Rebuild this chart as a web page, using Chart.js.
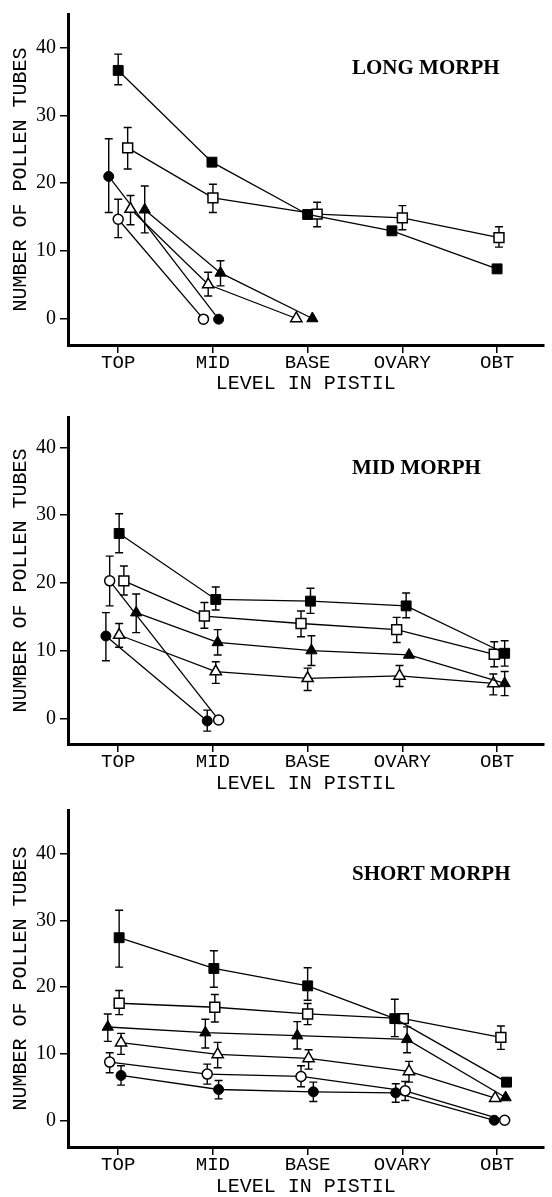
<!DOCTYPE html>
<html>
<head>
<meta charset="utf-8">
<script src="https://cdn.jsdelivr.net/npm/chart.js@4.4.1/dist/chart.umd.min.js"></script>
<style>
  html, body { margin: 0; padding: 0; background: #fff; }
  .panel { position: absolute; left: 0; width: 552px; }
</style>
</head>
<body>
<div class="panel" style="top:0px;height:400px"><canvas id="longChart" width="552" height="400"></canvas></div>
<div class="panel" style="top:400px;height:396px"><canvas id="midChart" width="552" height="396"></canvas></div>
<div class="panel" style="top:796px;height:401px"><canvas id="shortChart" width="552" height="401"></canvas></div>
<script>
const categories = ['TOP', 'MID', 'BASE', 'OVARY', 'OBT'];
const yTicks = [0, 10, 20, 30, 40];

// LONG MORPH  (x = level, with the small sideways offsets of the figure)
const longFSquareX = [0.0, 0.99, 2.0, 2.89, 4.0];
const longFSquare = [36.6, 23.1, 15.4, 13.0, 7.4];
const longFSquareErr = [[34.5, 39.0], null, null, null, null];
const longOSquareX = [0.1, 1.0, 2.1, 3.0, 4.02];
const longOSquare = [25.2, 17.85, 15.45, 14.9, 12.0];
const longOSquareErr = [[22.1, 28.2], [15.7, 19.85], [13.6, 17.2], [13.15, 16.7], [10.6, 13.6]];
const longFCircleX = [-0.1, 1.06];
const longFCircle = [21.0, 0];
const longFCircleErr = [[15.7, 26.55], null];
const longOCircleX = [0.0, 0.9];
const longOCircle = [14.7, 0];
const longOCircleErr = [[12.0, 17.65], null];
const longOTriX = [0.13, 0.95, 1.88];
const longOTri = [16.2, 5.1, 0.1];
const longOTriErr = [[13.9, 18.2], [3.4, 6.9], null];
const longFTriX = [0.28, 1.08, 2.05];
const longFTri = [16.1, 6.8, 0.1];
const longFTriErr = [[12.7, 19.6], [4.9, 8.6], null];

// MID MORPH
const midFSquareX = [0.01, 1.03, 2.03, 3.04, 4.08];
const midFSquare = [27.3, 17.55, 17.3, 16.6, 9.6];
const midFSquareErr = [[24.45, 30.2], [16.0, 19.4], [15.5, 19.2], [14.85, 18.5], [7.7, 11.45]];
const midOSquareX = [0.06, 0.91, 1.93, 2.94, 3.97];
const midOSquare = [20.3, 15.1, 14.0, 13.1, 9.45];
const midOSquareErr = [[18.2, 22.5], [13.3, 17.1], [12.05, 15.85], [11.2, 14.9], [7.6, 11.3]];
const midFTriX = [0.19, 1.05, 2.04, 3.07, 4.08];
const midFTri = [15.6, 11.2, 10.0, 9.35, 5.15];
const midFTriErr = [[12.65, 18.35], [9.35, 13.1], [7.8, 12.2], null, [3.35, 6.9]];
const midOTriX = [0.01, 1.03, 2.0, 2.97, 3.96];
const midOTri = [12.3, 6.9, 5.9, 6.25, 5.15];
const midOTriErr = [[10.5, 14.0], [5.15, 8.35], [4.1, 7.4], [4.7, 7.8], [3.45, 6.55]];
const midFCircleX = [-0.13, 0.94];
const midFCircle = [12.15, -0.4];
const midFCircleErr = [[8.5, 15.6], [-1.9, 1.2]];
const midOCircleX = [-0.09, 1.06];
const midOCircle = [20.3, -0.25];
const midOCircleErr = [[16.6, 23.95], null];

// SHORT MORPH
const shortFSquareX = [0.01, 1.01, 2.0, 2.92, 4.1];
const shortFSquare = [27.4, 22.8, 20.2, 15.3, 5.8];
const shortFSquareErr = [[23.0, 31.5], [20.0, 25.45], [18.05, 22.9], [12.6, 18.2], null];
const shortOSquareX = [0.01, 1.02, 2.0, 3.01, 4.04];
const shortOSquare = [17.6, 17.0, 16.0, 15.3, 12.5];
const shortOSquareErr = [[15.9, 19.5], [14.8, 18.9], [14.4, 17.55], null, [10.7, 14.2]];
const shortFTriX = [-0.11, 0.92, 1.89, 3.05, 4.09];
const shortFTri = [14.05, 13.2, 12.75, 12.2, 3.5];
const shortFTriErr = [[11.9, 16.0], [10.9, 15.2], [10.75, 14.85], [10.2, 14.07], null];
const shortOTriX = [0.03, 1.05, 2.01, 3.07, 3.98];
const shortOTri = [11.7, 9.95, 9.35, 7.4, 3.4];
const shortOTriErr = [[9.95, 13.1], [7.95, 11.75], [7.75, 10.65], [5.8, 8.9], null];
const shortOCircleX = [-0.09, 0.94, 1.93, 3.03, 4.08];
const shortOCircle = [8.8, 7.0, 6.65, 4.5, 0.1];
const shortOCircleErr = [[7.2, 10.2], [5.5, 8.5], [5.1, 8.25], [3.05, 5.9], null];
const shortFCircleX = [0.03, 1.06, 2.06, 2.93, 3.97];
const shortFCircle = [6.8, 4.7, 4.35, 4.2, 0.1];
const shortFCircleErr = [[5.35, 8.25], [3.3, 6.05], [2.9, 5.8], [2.8, 5.55], null];

const markers = {
  fSquare: { style: 'rect', r: 7, fill: '#000', bw: 1 },
  oSquare: { style: 'rect', r: 7, fill: '#fff', bw: 1.5 },
  fTri: { style: 'triangle', r: 6.5, fill: '#000', bw: 1 },
  oTri: { style: 'triangle', r: 6.5, fill: '#fff', bw: 1.5 },
  fCircle: { style: 'circle', r: 5, fill: '#000', bw: 1 },
  oCircle: { style: 'circle', r: 5, fill: '#fff', bw: 1.5 }
};

const monoFont = '"Liberation Mono", "Courier New", monospace';
const serifFont = '"Liberation Serif", "Times New Roman", serif';

// error bars, drawn under the markers
const errorBars = {
  id: 'errorBars',
  beforeDatasetsDraw(chart) {
    const ctx = chart.ctx;
    const yScale = chart.scales.y;
    ctx.save();
    ctx.strokeStyle = '#000';
    ctx.lineWidth = 1.4;
    chart.data.datasets.forEach((ds, di) => {
      const meta = chart.getDatasetMeta(di);
      ds.errors.forEach((e, i) => {
        if (!e) return;
        const x = meta.data[i].x;
        const lo = yScale.getPixelForValue(e[0]);
        const hi = yScale.getPixelForValue(e[1]);
        ctx.beginPath();
        ctx.moveTo(x, lo); ctx.lineTo(x, hi);
        ctx.moveTo(x - 4, lo); ctx.lineTo(x + 4, lo);
        ctx.moveTo(x - 4, hi); ctx.lineTo(x + 4, hi);
        ctx.stroke();
      });
    });
    ctx.restore();
  }
};

const panelTitle = {
  id: 'panelTitle',
  afterDraw(chart, args, opts) {
    const ctx = chart.ctx;
    ctx.save();
    ctx.font = 'bold 21px ' + serifFont;
    ctx.fillStyle = '#000';
    ctx.textBaseline = 'middle';
    ctx.fillText(opts.text, opts.x, chart.scales.y.getPixelForValue(40) + 21);
    ctx.restore();
  }
};

function makePanel(id, title, series, yMin, yMax, box) {
  const datasets = series.map(s => {
    const m = markers[s.mark];
    return {
      data: s.x.map((x, i) => ({ x: x, y: s.y[i] })),
      errors: s.err,
      showLine: true,
      borderColor: '#000',
      borderWidth: 1.3,
      pointStyle: m.style,
      pointRadius: m.r,
      pointBackgroundColor: m.fill,
      pointBorderColor: '#000',
      pointBorderWidth: m.bw,
      clip: false
    };
  });

  new Chart(document.getElementById(id), {
    type: 'scatter',
    data: { datasets: datasets },
    plugins: [errorBars, panelTitle],
    options: {
      responsive: false,
      animation: false,
      layout: { padding: { top: box.top, left: 0, right: 0, bottom: 0 } },
      plugins: {
        legend: { display: false },
        tooltip: { enabled: false },
        panelTitle: { text: title, x: 352 }
      },
      scales: {
        x: {
          type: 'linear',
          min: -0.53,
          max: 4.49,
          afterBuildTicks: s => { s.ticks = categories.map((c, i) => ({ value: i })); },
          afterFit: s => { s.height = box.xHeight; },
          ticks: {
            callback: (v, i) => categories[i],
            color: '#000',
            padding: 0,
            maxRotation: 0,
            autoSkip: false,
            font: { family: monoFont, size: 19, lineHeight: 1 }
          },
          grid: { display: true, drawOnChartArea: false, drawTicks: true, tickLength: 8, color: '#000', lineWidth: 1.5 },
          border: { display: true, color: '#000', width: 3 },
          title: {
            display: true,
            text: 'LEVEL IN PISTIL',
            color: '#000',
            font: { family: monoFont, size: 20, lineHeight: 1 },
            padding: { top: 0, bottom: box.titlePad }
          }
        },
        y: {
          min: yMin,
          max: yMax,
          afterBuildTicks: s => { s.ticks = yTicks.map(v => ({ value: v })); },
          afterFit: s => { s.width = 68; },
          ticks: {
            color: '#000',
            padding: 4,
            font: { family: serifFont, size: 20, lineHeight: 1 }
          },
          grid: { display: true, drawOnChartArea: false, drawTicks: true, tickLength: 8, color: '#000', lineWidth: 1.5 },
          border: { display: true, color: '#000', width: 3 },
          title: {
            display: true,
            text: 'NUMBER OF POLLEN TUBES',
            color: '#000',
            font: { family: monoFont, size: 20, lineHeight: 1 },
            padding: { top: 11, bottom: 0 }
          }
        }
      }
    }
  });
}

makePanel('longChart', 'LONG MORPH', [
  { mark: 'fSquare', x: longFSquareX, y: longFSquare, err: longFSquareErr },
  { mark: 'oSquare', x: longOSquareX, y: longOSquare, err: longOSquareErr },
  { mark: 'fTri', x: longFTriX, y: longFTri, err: longFTriErr },
  { mark: 'oTri', x: longOTriX, y: longOTri, err: longOTriErr },
  { mark: 'fCircle', x: longFCircleX, y: longFCircle, err: longFCircleErr },
  { mark: 'oCircle', x: longOCircleX, y: longOCircle, err: longOCircleErr }
], -3.8, 44.9, { top: 13, xHeight: 55, titlePad: 6 });

makePanel('midChart', 'MID MORPH', [
  { mark: 'fSquare', x: midFSquareX, y: midFSquare, err: midFSquareErr },
  { mark: 'oSquare', x: midOSquareX, y: midOSquare, err: midOSquareErr },
  { mark: 'fTri', x: midFTriX, y: midFTri, err: midFTriErr },
  { mark: 'oTri', x: midOTriX, y: midOTri, err: midOTriErr },
  { mark: 'fCircle', x: midFCircleX, y: midFCircle, err: midFCircleErr },
  { mark: 'oCircle', x: midOCircleX, y: midOCircle, err: midOCircleErr }
], -3.8, 44.5, { top: 17, xHeight: 52, titlePad: 2 });

makePanel('shortChart', 'SHORT MORPH', [
  { mark: 'fSquare', x: shortFSquareX, y: shortFSquare, err: shortFSquareErr },
  { mark: 'oSquare', x: shortOSquareX, y: shortOSquare, err: shortOSquareErr },
  { mark: 'fTri', x: shortFTriX, y: shortFTri, err: shortFTriErr },
  { mark: 'oTri', x: shortOTriX, y: shortOTri, err: shortOTriErr },
  { mark: 'oCircle', x: shortOCircleX, y: shortOCircle, err: shortOCircleErr },
  { mark: 'fCircle', x: shortFCircleX, y: shortFCircle, err: shortFCircleErr }
], -3.9, 46.5, { top: 4, xHeight: 50, titlePad: 0 });
</script>
</body>
</html>
